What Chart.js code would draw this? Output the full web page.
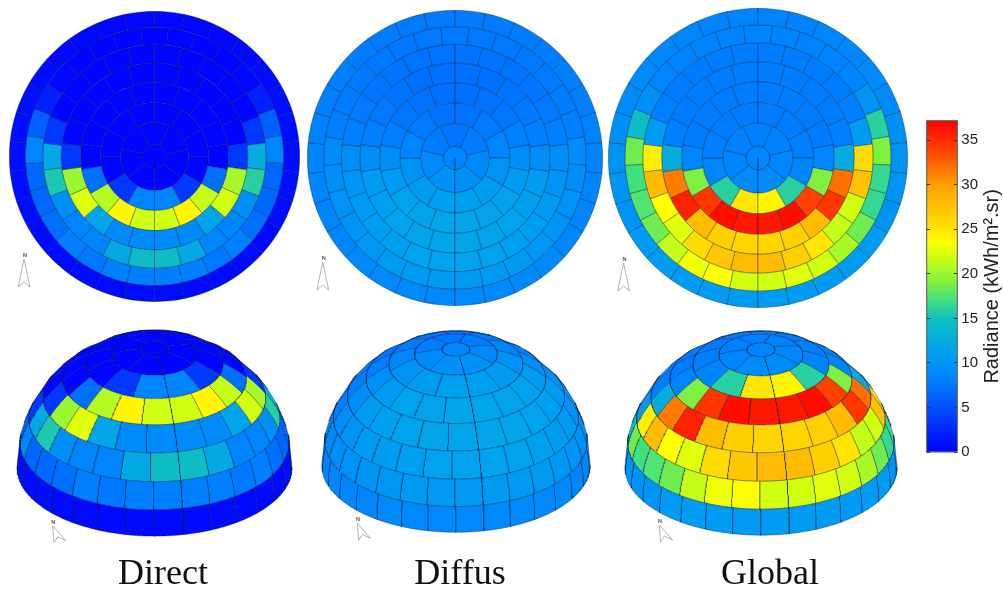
<!DOCTYPE html>
<html>
<head>
<meta charset="utf-8">
<title>Radiance sky domes</title>
<script src="https://cdn.jsdelivr.net/npm/chart.js@4/dist/chart.umd.js"></script>
<style>
    html, body { margin: 0; padding: 0; background: #fff; overflow: hidden; }
    #page { position: relative; width: 1003px; height: 589px; }
    canvas { position: absolute; filter: blur(0.5px); }
    .caption { position: absolute; top: 549px; width: 200px; text-align: center; color: #111;
        font: 36px "Liberation Serif", serif; line-height: 46px; }
    svg.north { position: absolute; left: 0; top: 0; overflow: visible; }
</style>
</head>
<body>
<div id="page"></div>
<script>
// Radiance per sky patch, rings from horizon to zenith, each clockwise from south
const directRing0 = [0.6,0.6,0.6,0.6,0.6,0.8,0.8,0.8,0.8,0.8,0.6,0.5,0.4,0.4,0.4,0.4,0.4,0.4,0.5,0.6,0.8,0.8,0.8,0.8,0.8,0.6,0.6,0.6,0.6,0.6];
const directRing1 = [8,8,7.5,8,7,6.5,6.5,8.5,6,2,0.4,0.3,0.3,0.3,0.3,0.3,0.3,0.3,0.4,2,6,8.5,6.5,6.5,7,8,7.5,8,8];
const directRing2 = [14.5,12,8.5,8.5,9.5,15.5,12,3.5,0.3,0.3,0.3,0.3,0.3,0.3,0.3,0.3,0.3,0.3,3.5,12.5,16,9.5,8.5,8.5,12,14.5];
const directRing3 = [9,9,11.5,22.5,20,3.5,0.3,0.3,0.3,0.3,0.3,0.3,0.3,0.3,0.3,0.3,3.5,20.5,22,11.5,9,9];
const directRing4 = [22,24,21,7,0.3,0.3,0.3,0.3,0.3,0.3,0.3,0.3,0.3,0.3,7,21.5,24,22];
const directRing5 = [8.5,3.5,0.3,0.3,0.3,0.3,0.3,0.3,0.3,0.3,3.5,8.5];
const directRing6 = [0.3,0.3,0.3,0.3,0.3,0.3,0.3];
const directRing7 = [0.3];

const diffusRing0 = [8.8,8.8,8.8,8.8,8.6,8.5,8.5,8.3,8.2,8,8,7.8,7.8,7.6,7.6,7.6,7.6,7.8,7.8,8,8,8.2,8.3,8.5,8.5,8.6,8.8,8.8,8.8,8.8];
const diffusRing1 = [10.4,10.4,10.4,10.2,10,9.7,9.4,9.2,8,7.8,7.6,7.5,7.5,7.5,7.5,7.5,7.5,7.5,7.6,7.8,8,9.2,9.4,9.7,10,10.2,10.4,10.4,10.4];
const diffusRing2 = [11.2,11.2,11,10.8,10.5,10,9.4,8,7.6,7.4,7.2,7.2,7.2,7.2,7.2,7.2,7.4,7.6,8,9.4,10,10.5,10.8,11,11.2,11.2];
const diffusRing3 = [11.5,11.5,11.2,11,10.5,9.4,8,7.5,7.2,7,7,7,7,7.2,7.5,8,9.4,10.5,11,11.2,11.5,11.5];
const diffusRing4 = [11.5,11.4,11.2,10.5,9.4,8,7.4,7.1,7,7,7.1,7.4,8,9.4,10.5,11.2,11.4,11.5];
const diffusRing5 = [11,10.6,9.8,8.6,7.6,7.1,7.1,7.6,8.6,9.8,10.6,11];
const diffusRing6 = [9.6,8.8,7.8,7.3,7.8,8.8,9.6];
const diffusRing7 = [8.6];

const globalRing0 = [10.5,10.5,10.5,10.5,10.5,10,10,9.8,9.5,9,9,8.6,8.6,8.4,8.4,8.4,8.4,8.6,8.6,9,9,9.5,9.8,10,10,10.5,10.5,10.5,10.5,10.5];
const globalRing1 = [22,23.5,23,21.5,18.5,17.5,17,18.5,14.5,9.5,8.5,8.4,8.4,8.4,8.4,8.4,8.4,8.4,8.5,10,16,19,16.5,16.5,18.5,20.5,22,22.5,22];
const globalRing2 = [28,27,25.5,22.5,23.5,28,24.5,10.5,8,7.8,7.8,7.8,7.8,7.8,7.8,7.8,7.8,8,10.5,25.5,27.5,22,21.5,25,26.5,28];
const globalRing3 = [26,26.5,28,35.5,31.5,12.5,8,7.8,7.8,7.8,7.8,7.8,7.8,7.8,7.8,8,12.5,32,34.5,28,26.5,26];
const globalRing4 = [36,36.5,34.5,19,8.5,7.8,7.8,7.8,7.8,7.8,7.8,7.8,7.8,8.5,19,34,36.5,36];
const globalRing5 = [25,16,8.5,8,7.8,7.8,7.8,7.8,8,8.5,16,24];
const globalRing6 = [9,8.6,8.2,8,8.2,8.6,9];
const globalRing7 = [8.6];

const directRings = [directRing0, directRing1, directRing2, directRing3, directRing4, directRing5, directRing6, directRing7];
const diffusRings = [diffusRing0, diffusRing1, diffusRing2, diffusRing3, diffusRing4, diffusRing5, diffusRing6, diffusRing7];
const globalRings = [globalRing0, globalRing1, globalRing2, globalRing3, globalRing4, globalRing5, globalRing6, globalRing7];

const captions = ['Direct', 'Diffus', 'Global'];
const colorbarTitle = 'Radiance (kWh/m².sr)';
const colorbarMax = 37.2;
const colorbarStep = 5;

// Colour scale of the reference bar
const scaleStops = [0, 4, 8, 11, 15, 17, 19, 22, 23.5, 25.5, 30, 34, 37.2];
const scaleColors = [[0,0,255],[0,64,255],[0,128,255],[0,160,240],[16,192,192],[64,224,128],[128,240,64],[208,255,16],[255,255,0],[255,220,0],[255,160,0],[255,64,0],[255,0,0]];

const ringThickness = [48, 52, 55, 58, 60, 60, 67, 35];  // top view, ring widths
const ringBaseAltitude = [0, 12, 24, 36, 48, 60, 72, 84];
const PATCH_LINE = 'rgba(0,20,60,0.5)';

function radianceColor(v) {
    let i = 0;
    while (i < scaleStops.length - 2 && v > scaleStops[i + 1]) i++;
    const t = Math.min(1, Math.max(0, (v - scaleStops[i]) / (scaleStops[i + 1] - scaleStops[i])));
    const a = scaleColors[i], b = scaleColors[i + 1];
    return `rgb(${Math.round(a[0] + (b[0] - a[0]) * t)},${Math.round(a[1] + (b[1] - a[1]) * t)},${Math.round(a[2] + (b[2] - a[2]) * t)})`;
}

const page = document.getElementById('page');

function addCanvas(left, top, width, height) {
    const c = document.createElement('canvas');
    c.width = width;
    c.height = height;
    c.style.left = left + 'px';
    c.style.top = top + 'px';
    c.style.width = width + 'px';
    c.style.height = height + 'px';
    page.appendChild(c);
    return c;
}

// Top view: one doughnut ring per altitude band
function drawTopView(rings, cx, cy, radius) {
    const size = Math.ceil(radius * 2 + 2);
    const canvas = addCanvas(Math.round(cx - size / 2), Math.round(cy - size / 2), size, size);
    new Chart(canvas, {
        type: 'doughnut',
        data: {
            datasets: rings.map((values, i) => ({
                data: values.map(() => 1),
                weight: ringThickness[i],
                backgroundColor: values.map(radianceColor),
                borderColor: PATCH_LINE,
                borderWidth: 0.7
            }))
        },
        options: {
            responsive: false,
            animation: false,
            events: [],
            rotation: 180,
            cutout: 0,
            plugins: { legend: { display: false }, tooltip: { enabled: false } }
        }
    });
}

// Dome view: orthographic hemisphere seen from 30 deg above, south turned 12 deg to the right
const DOME_ELEVATION = 30 * Math.PI / 180;
const DOME_TURN = 12;

function domeRay(azimuth, altitude) {
    const az = (azimuth - DOME_TURN) * Math.PI / 180;
    const alt = altitude * Math.PI / 180;
    const toward = Math.cos(alt) * Math.cos(az);
    return {
        x: -Math.cos(alt) * Math.sin(az),
        y: Math.sin(alt) * Math.cos(DOME_ELEVATION) - toward * Math.sin(DOME_ELEVATION),
        facing: toward * Math.cos(DOME_ELEVATION) + Math.sin(alt) * Math.sin(DOME_ELEVATION)
    };
}

// Patch border walked at fine steps, the part behind the dome is dropped
function patchOutline(ring, index, count) {
    const low = ringBaseAltitude[ring];
    const high = low + 12;
    const width = 360 / count;
    const a0 = width * index;
    const points = [];
    const steps = Math.max(8, Math.ceil(width / 0.75));
    for (let s = 0; s <= steps; s++) points.push(domeRay(a0 + width * s / steps, low));
    if (count > 1) {
        for (let m = 1; m < 16; m++) points.push(domeRay(a0 + width, low + 12 * m / 16));
        for (let s = steps; s >= 0; s--) points.push(domeRay(a0 + width * s / steps, high));
        for (let m = 15; m > 0; m--) points.push(domeRay(a0, low + 12 * m / 16));
    }
    const front = points.filter(p => p.facing >= 0);
    if (front.length) front.push(front[0]);
    return front;
}

function drawDomeView(rings, cx, cy, radius) {
    const patches = [];
    rings.forEach((values, ring) => {
        values.forEach((v, k) => {
            const outline = patchOutline(ring, k, values.length);
            if (outline.length > 3) patches.push({ v, outline });
        });
    });

    const canvas = addCanvas(Math.round(cx - radius * 1.05), Math.round(cy - radius * 1.05),
        Math.round(radius * 2.1), Math.round(radius * 1.6));
    new Chart(canvas, {
        type: 'scatter',
        data: {
            datasets: patches.map(p => ({
                data: p.outline.map(o => ({ x: o.x, y: o.y })),
                showLine: true,
                fill: 'shape',
                tension: 0,
                pointRadius: 0,
                backgroundColor: radianceColor(p.v),
                borderColor: PATCH_LINE,
                borderWidth: 0.7
            }))
        },
        options: {
            responsive: false,
            animation: false,
            events: [],
            layout: { padding: 0 },
            scales: {
                x: { display: false, min: -1.05, max: 1.05 },
                y: { display: false, min: -0.55, max: 1.05 }
            },
            plugins: { legend: { display: false }, tooltip: { enabled: false } }
        }
    });
}

function drawColorbar() {
    const canvas = addCanvas(920, 110, 83, 360);
    canvas.style.filter = 'blur(0.3px)';
    new Chart(canvas, {
        type: 'bar',
        data: {
            labels: ['Radiance'],
            datasets: [{
                data: [[0, colorbarMax]],
                barPercentage: 1,
                categoryPercentage: 1,
                borderWidth: 0,
                backgroundColor(context) {
                    const { chart } = context;
                    if (!chart.chartArea) return '#00f';
                    const yScale = chart.scales.y;
                    const g = chart.ctx.createLinearGradient(0, yScale.getPixelForValue(0), 0, yScale.getPixelForValue(colorbarMax));
                    scaleStops.forEach((s, i) => g.addColorStop(s / colorbarMax, `rgb(${scaleColors[i].join(',')})`));
                    return g;
                }
            }]
        },
        options: {
            responsive: false,
            animation: false,
            events: [],
            layout: { padding: { left: 6.7, top: 10.7, bottom: 18, right: 0 } },
            scales: {
                x: { display: false },
                y: {
                    position: 'right',
                    min: 0,
                    max: colorbarMax,
                    afterFit(scale) {
                        scale.width = 45.7;
                        scale.paddingTop = 0;
                        scale.paddingBottom = 0;
                    },
                    ticks: {
                        stepSize: colorbarStep,
                        includeBounds: false,
                        padding: 4,
                        color: '#222',
                        font: { family: '"Liberation Sans"', size: 15 }
                    },
                    grid: { z: 1, color: '#333', lineWidth: 1, drawTicks: false, tickLength: 0 },
                    border: { dash: [3.5, 23.6, 3.5], display: false }
                }
            },
            plugins: { legend: { display: false }, tooltip: { enabled: false } }
        },
        plugins: [{
            id: 'barFrameAndTitle',
            afterDraw(chart) {
                const { ctx, chartArea: a } = chart;
                ctx.save();
                ctx.strokeStyle = '#555';
                ctx.lineWidth = 1;
                ctx.strokeRect(a.left, a.top, a.right - a.left, a.bottom - a.top);
                ctx.translate(72, (a.top + a.bottom) / 2);
                ctx.rotate(-Math.PI / 2);
                ctx.fillStyle = '#222';
                ctx.font = '20px "Liberation Sans"';
                ctx.textAlign = 'center';
                ctx.textBaseline = 'middle';
                ctx.fillText(colorbarTitle, 0, 0);
                ctx.restore();
            }
        }]
    });
}

// Small north arrows, tip at (x, y)
function addNorthArrow(x, y, turned) {
    const shape = turned
        ? `M${x} ${y} L${x + 13.3} ${y + 15} L${x + 5} ${y + 11} L${x + 1.3} ${y + 17} Z`
        : `M${x} ${y} L${x - 5.7} ${y + 28} L${x} ${y + 23} L${x + 6} ${y + 28} Z`;
    const nx = turned ? x + 0.6 : x + 1;
    page.insertAdjacentHTML('beforeend',
        `<svg class="north" width="1003" height="589"><path d="${shape}" fill="#fff" stroke="#aaa" stroke-width="0.9"/>` +
        `<text x="${nx}" y="${y - 2}" font-family="Liberation Sans" font-size="5.5" font-weight="bold" fill="#555" text-anchor="middle">N</text></svg>`);
}

function addCaption(text, centerX) {
    const d = document.createElement('div');
    d.className = 'caption';
    d.style.left = (centerX - 100) + 'px';
    d.textContent = text;
    page.appendChild(d);
}

drawTopView(directRings, 154.3, 156.7, 144.5);
drawTopView(diffusRings, 455, 157.7, 147);
drawTopView(globalRings, 758.3, 158.3, 149);

drawDomeView(directRings, 154.5, 467, 137.5);
drawDomeView(diffusRings, 456.5, 465.7, 134.5);
drawDomeView(globalRings, 761, 467, 136);

drawColorbar();

addNorthArrow(24, 259, false);
addNorthArrow(322.7, 262, false);
addNorthArrow(623.5, 263, false);
addNorthArrow(52.7, 525.7, true);
addNorthArrow(357.3, 523.3, true);
addNorthArrow(659.3, 525, true);

addCaption(captions[0], 163);
addCaption(captions[1], 460);
addCaption(captions[2], 770);
</script>
</body>
</html>
